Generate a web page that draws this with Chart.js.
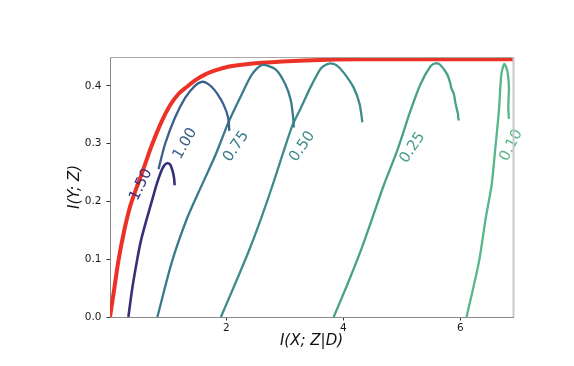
<!DOCTYPE html>
<html>
<head>
<meta charset="utf-8">
<script src="https://cdn.jsdelivr.net/npm/chart.js@4/dist/chart.umd.min.js"></script>
<style>
html,body{margin:0;padding:0;background:#fff;}
canvas{display:block;}
</style>
</head>
<body>
<canvas id="c" width="574" height="366"></canvas>
<script>
// ---- data ----
const xTicks = [2, 4, 6];
const yTicks = [0, 0.1, 0.2, 0.3, 0.4];

const boundX = [0.01, 0.08, 0.15, 0.25, 0.35, 0.44, 0.56, 0.72, 0.90, 1.04, 1.18, 1.32, 1.47, 1.64, 1.85, 2.03, 2.30, 2.61, 3.35, 4.29, 6.90];
const boundY = [0.000, 0.047, 0.095, 0.148, 0.190, 0.217, 0.250, 0.296, 0.340, 0.367, 0.386, 0.398, 0.410, 0.420, 0.428, 0.433, 0.437, 0.440, 0.444, 0.446, 0.446];

const curveNames = ['1.50', '1.00', '0.75', '0.50', '0.25', '0.10'];

const c150X = [0.324, 0.387, 0.467, 0.541, 0.639, 0.729, 0.815, 0.884, 0.935, 0.986, 1.038, 1.080, 1.106, 1.115];
const c150Y = [0.000, 0.047, 0.095, 0.133, 0.170, 0.202, 0.232, 0.252, 0.262, 0.266, 0.264, 0.253, 0.240, 0.228];

const c100X = [0.84, 0.95, 1.12, 1.30, 1.47, 1.58, 1.66, 1.75, 1.84, 1.95, 2.03, 2.05];
const c100Y = [0.256, 0.299, 0.345, 0.380, 0.401, 0.407, 0.405, 0.398, 0.387, 0.368, 0.345, 0.322];

const c075X = [0.820, 1.067, 1.324, 1.520, 1.808, 2.036, 2.265, 2.437, 2.608, 2.836, 3.007, 3.104, 3.149, 3.152];
const c075Y = [0.000, 0.095, 0.170, 0.215, 0.279, 0.337, 0.386, 0.420, 0.436, 0.429, 0.403, 0.374, 0.337, 0.328];

const c050X = [1.906, 2.139, 2.378, 2.591, 2.779, 3.122, 3.264, 3.435, 3.606, 3.692, 3.777, 3.880, 4.005, 4.176, 4.279, 4.325];
const c050Y = [0.000, 0.055, 0.113, 0.170, 0.225, 0.330, 0.360, 0.397, 0.429, 0.436, 0.439, 0.436, 0.423, 0.397, 0.368, 0.337];

const c025X = [3.834, 4.063, 4.291, 4.491, 4.690, 4.920, 5.147, 5.318, 5.490, 5.575, 5.650, 5.775, 5.832, 5.845, 5.889, 5.918, 5.960, 5.962, 5.975];
const c025Y = [0.000, 0.055, 0.113, 0.170, 0.228, 0.288, 0.357, 0.403, 0.434, 0.439, 0.437, 0.420, 0.403, 0.396, 0.386, 0.369, 0.351, 0.345, 0.340];

const c010X = [6.106, 6.317, 6.432, 6.534, 6.594, 6.659, 6.700, 6.750, 6.803, 6.830, 6.820, 6.830];
const c010Y = [0.000, 0.095, 0.170, 0.228, 0.288, 0.357, 0.419, 0.438, 0.426, 0.397, 0.363, 0.343];

// label anchors (data units) and rotation (deg)
const labelX = [0.542, 1.295, 2.168, 3.298, 5.182, 6.870];
const labelY = [0.229, 0.300, 0.295, 0.295, 0.293, 0.297];
const labelAngle = [-64, -60, -56, -55, -56, -63];

// ---- styles ----
const curveColors = ['#35307a', '#3b5f8c', '#3a7b8b', '#3d8c8b', '#47a18a', '#58b68a'];
const boundColor = '#ec3126';

const toPts = (xs, ys) => xs.map((x, i) => ({x: x, y: ys[i]}));
const curveXs = [c150X, c100X, c075X, c050X, c025X, c010X];
const curveYs = [c150Y, c100Y, c075Y, c050Y, c025Y, c010Y];

const datasets = curveNames.map((n, i) => ({
  label: n,
  data: toPts(curveXs[i], curveYs[i]),
  borderColor: curveColors[i],
  borderWidth: i === 0 ? 2.6 : 2.3,
  pointRadius: 0,
  showLine: true,
  tension: 0.25,
  order: i
}));
datasets.push({
  label: 'bound',
  data: toPts(boundX, boundY),
  borderColor: boundColor,
  borderWidth: 4,
  pointRadius: 0,
  showLine: true,
  cubicInterpolationMode: 'monotone',
  order: 20
});

const framePlugin = {
  id: 'frame',
  afterDraw(chart) {
    const {ctx, chartArea: a} = chart;
    ctx.save();
    ctx.strokeStyle = '#a8a8a8';
    ctx.lineWidth = 1;
    ctx.beginPath();
    ctx.moveTo(a.left, a.top + 0.5);
    ctx.lineTo(a.right, a.top + 0.5);
    ctx.stroke();
    ctx.strokeStyle = '#c8c8c8';
    ctx.lineWidth = 2;
    ctx.beginPath();
    ctx.moveTo(a.right + 0.5, a.top);
    ctx.lineTo(a.right + 0.5, a.bottom);
    ctx.stroke();
    ctx.restore();
  }
};

const labelPlugin = {
  id: 'curveLabels',
  afterDatasetsDraw(chart) {
    const {ctx, scales} = chart;
    ctx.save();
    ctx.font = '15px "DejaVu Sans"';
    ctx.textAlign = 'center';
    ctx.textBaseline = 'middle';
    curveNames.forEach((n, i) => {
      const px = scales.x.getPixelForValue(labelX[i]);
      const py = scales.y.getPixelForValue(labelY[i]);
      ctx.save();
      ctx.translate(px, py);
      ctx.rotate(labelAngle[i] * Math.PI / 180);
      ctx.fillStyle = curveColors[i];
      ctx.fillText(n, 0, 0);
      ctx.restore();
    });
    ctx.restore();
  }
};

new Chart(document.getElementById('c'), {
  type: 'scatter',
  data: {datasets: datasets},
  options: {
    responsive: false,
    animation: false,
    layout: {padding: {left: 0, right: 61, top: 57, bottom: 0}},
    plugins: {legend: {display: false}, tooltip: {enabled: false}},
    scales: {
      x: {
        type: 'linear',
        min: 0.01,
        max: 6.9,
        afterBuildTicks: s => { s.ticks = xTicks.map(v => ({value: v})); },
        afterFit: s => { s.height = 49; },
        grid: {drawOnChartArea: false, drawTicks: true, tickLength: 3.5, tickColor: '#333'},
        border: {color: '#8a8a8a', width: 1},
        ticks: {color: '#1a1a1a', padding: 1, font: {family: 'DejaVu Sans', size: 10.5}, callback: v => String(v), maxRotation: 0},
        title: {display: true, text: 'I(X; Z|D)', color: '#111', font: {family: 'DejaVu Sans', size: 15, style: 'italic'}, padding: {top: 0, bottom: 16}}
      },
      y: {
        type: 'linear',
        min: 0,
        max: 0.45,
        afterBuildTicks: s => { s.ticks = yTicks.map(v => ({value: v})); },
        afterFit: s => { s.width = 110; },
        grid: {drawOnChartArea: false, drawTicks: true, tickLength: 3.5, tickColor: '#333'},
        border: {color: '#8a8a8a', width: 1},
        ticks: {color: '#1a1a1a', padding: 5, font: {family: 'DejaVu Sans', size: 10.5}, callback: v => v.toFixed(1)},
        title: {display: true, text: 'I(Y; Z)', color: '#111', font: {family: 'DejaVu Sans', size: 15, style: 'italic'}, padding: {top: 66, bottom: 0}}
      }
    }
  },
  plugins: [framePlugin, labelPlugin]
});
</script>
</body>
</html>
